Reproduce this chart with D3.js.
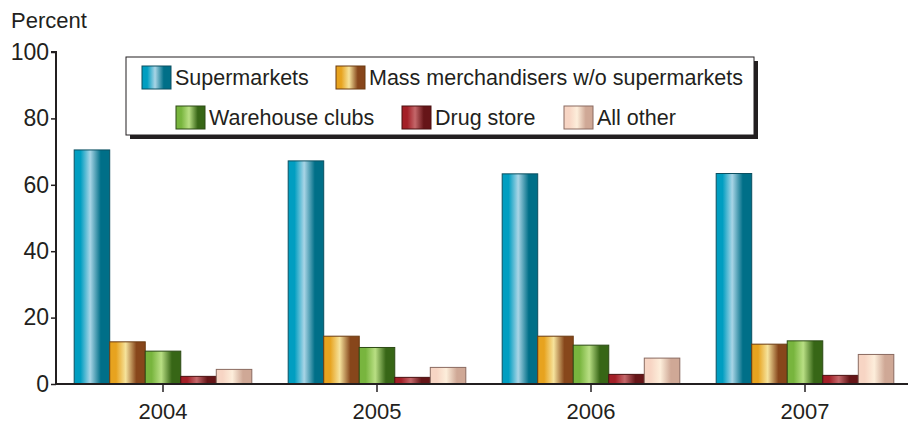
<!DOCTYPE html>
<head>
  <meta charset="utf-8">
  <script src="https://d3js.org/d3.v7.min.js"></script>
  <style>
    body { margin: 0; background: #fff; }
    svg { display: block; }
    text { font-family: "Liberation Sans", Arial, sans-serif; fill: #231f20; }
  </style>
</head>
<body>
  <svg width="908" height="425"></svg>
  <script>
    var years = ['2004', '2005', '2006', '2007'];
    var series = ['Supermarkets', 'Mass merchandisers w/o supermarkets', 'Warehouse clubs', 'Drug store', 'All other'];
    var supermarkets = [70.5, 67.2, 63.3, 63.4];
    var massMerch = [12.7, 14.4, 14.4, 12.0];
    var warehouse = [9.9, 11.0, 11.7, 13.0];
    var drugStore = [2.3, 2.0, 2.9, 2.6];
    var allOther = [4.4, 5.0, 7.8, 8.9];
    var yTicks = [0, 20, 40, 60, 80, 100];

    var values = [supermarkets, massMerch, warehouse, drugStore, allOther];
    // gradient stops per series: left, highlight, right
    var shades = [
      ['#009ec1', '#a9d5e6', '#006f88'],
      ['#e7a31f', '#f6e39c', '#87461b'],
      ['#78b53e', '#b9df84', '#376616'],
      ['#a31f27', '#c4676a', '#661518'],
      ['#f7d5c4', '#fdeedb', '#cfa896']
    ];
    var strokes = ['#0b4f60', '#6a3a10', '#2c4a15', '#4a1010', '#8a6a60'];

    var svg = d3.select('svg');
    var margin = { left: 56, top: 52, bottom: 384, right: 912 };

    var defs = svg.append('defs');
    shades.forEach(function (s, i) {
      var g = defs.append('linearGradient').attr('id', 'g' + i)
        .attr('x1', '0%').attr('x2', '100%').attr('y1', '0%').attr('y2', '0%');
      g.append('stop').attr('offset', '0%').attr('stop-color', s[0]);
      g.append('stop').attr('offset', '18%').attr('stop-color', s[0]);
      g.append('stop').attr('offset', '45%').attr('stop-color', s[1]);
      g.append('stop').attr('offset', '75%').attr('stop-color', s[2]);
      g.append('stop').attr('offset', '100%').attr('stop-color', s[2]);
    });

    var x0 = d3.scaleBand().domain(years).range([margin.left, margin.right]).paddingInner(0.17).paddingOuter(0.085);
    var x1 = d3.scaleBand().domain(d3.range(series.length)).range([0, x0.bandwidth()]);
    var y = d3.scaleLinear().domain([0, 100]).range([margin.bottom, margin.top]);

    // bars
    years.forEach(function (yr, j) {
      var g = svg.append('g').attr('transform', 'translate(' + x0(yr) + ',0)');
      g.selectAll('rect')
        .data(values.map(function (v, i) { return { i: i, v: v[j] }; }))
        .enter().append('rect')
        .attr('x', function (d) { return x1(d.i); })
        .attr('y', function (d) { return y(d.v); })
        .attr('width', x1.bandwidth())
        .attr('height', function (d) { return y(0) - y(d.v); })
        .attr('fill', function (d) { return 'url(#g' + d.i + ')'; })
        .attr('stroke', function (d) { return strokes[d.i]; })
        .attr('stroke-width', 1);
    });

    // y axis
    var yAxis = d3.axisLeft(y).tickValues(yTicks).tickSize(5).tickPadding(2);
    var ya = svg.append('g').attr('transform', 'translate(' + margin.left + ',0)').call(yAxis);
    ya.select('.domain').attr('stroke', '#231f20').attr('stroke-width', 2).attr('d', 'M-5,' + y(100) + 'H0V' + y(0));
    ya.selectAll('.tick line').attr('stroke', '#231f20').attr('stroke-width', 1.5);
    ya.selectAll('.tick text').attr('font-size', 23).style('fill', '#231f20');

    // x axis
    var xAxis = d3.axisBottom(x0).tickSize(8).tickPadding(11);
    var xa = svg.append('g').attr('transform', 'translate(0,' + margin.bottom + ')').call(xAxis);
    xa.select('.domain').attr('stroke', '#231f20').attr('stroke-width', 2).attr('d', 'M' + margin.left + ',0H908');
    xa.selectAll('.tick line').attr('stroke', '#231f20').attr('stroke-width', 1.5);
    xa.selectAll('.tick text').attr('font-size', 22).style('fill', '#231f20');

    svg.append('text').attr('x', 11).attr('y', 28).attr('font-size', 22).text('Percent');

    // legend
    var lg = svg.append('g');
    lg.append('rect').attr('x', 130).attr('y', 61).attr('width', 628).attr('height', 78).attr('fill', '#231f20');
    lg.append('rect').attr('x', 126).attr('y', 57).attr('width', 628).attr('height', 78)
      .attr('fill', '#fff').attr('stroke', '#231f20').attr('stroke-width', 1);
    var items = [
      { i: 0, x: 142, y: 66 },
      { i: 1, x: 336, y: 66 },
      { i: 2, x: 176, y: 106 },
      { i: 3, x: 402, y: 106 },
      { i: 4, x: 564, y: 106 }
    ];
    items.forEach(function (it) {
      lg.append('rect').attr('x', it.x).attr('y', it.y).attr('width', 29).attr('height', 23)
        .attr('fill', 'url(#g' + it.i + ')').attr('stroke', strokes[it.i]).attr('stroke-width', 1);
      lg.append('text').attr('x', it.x + 33).attr('y', it.y + 19).attr('font-size', 21.5).text(series[it.i]);
    });
  </script>
</body>
